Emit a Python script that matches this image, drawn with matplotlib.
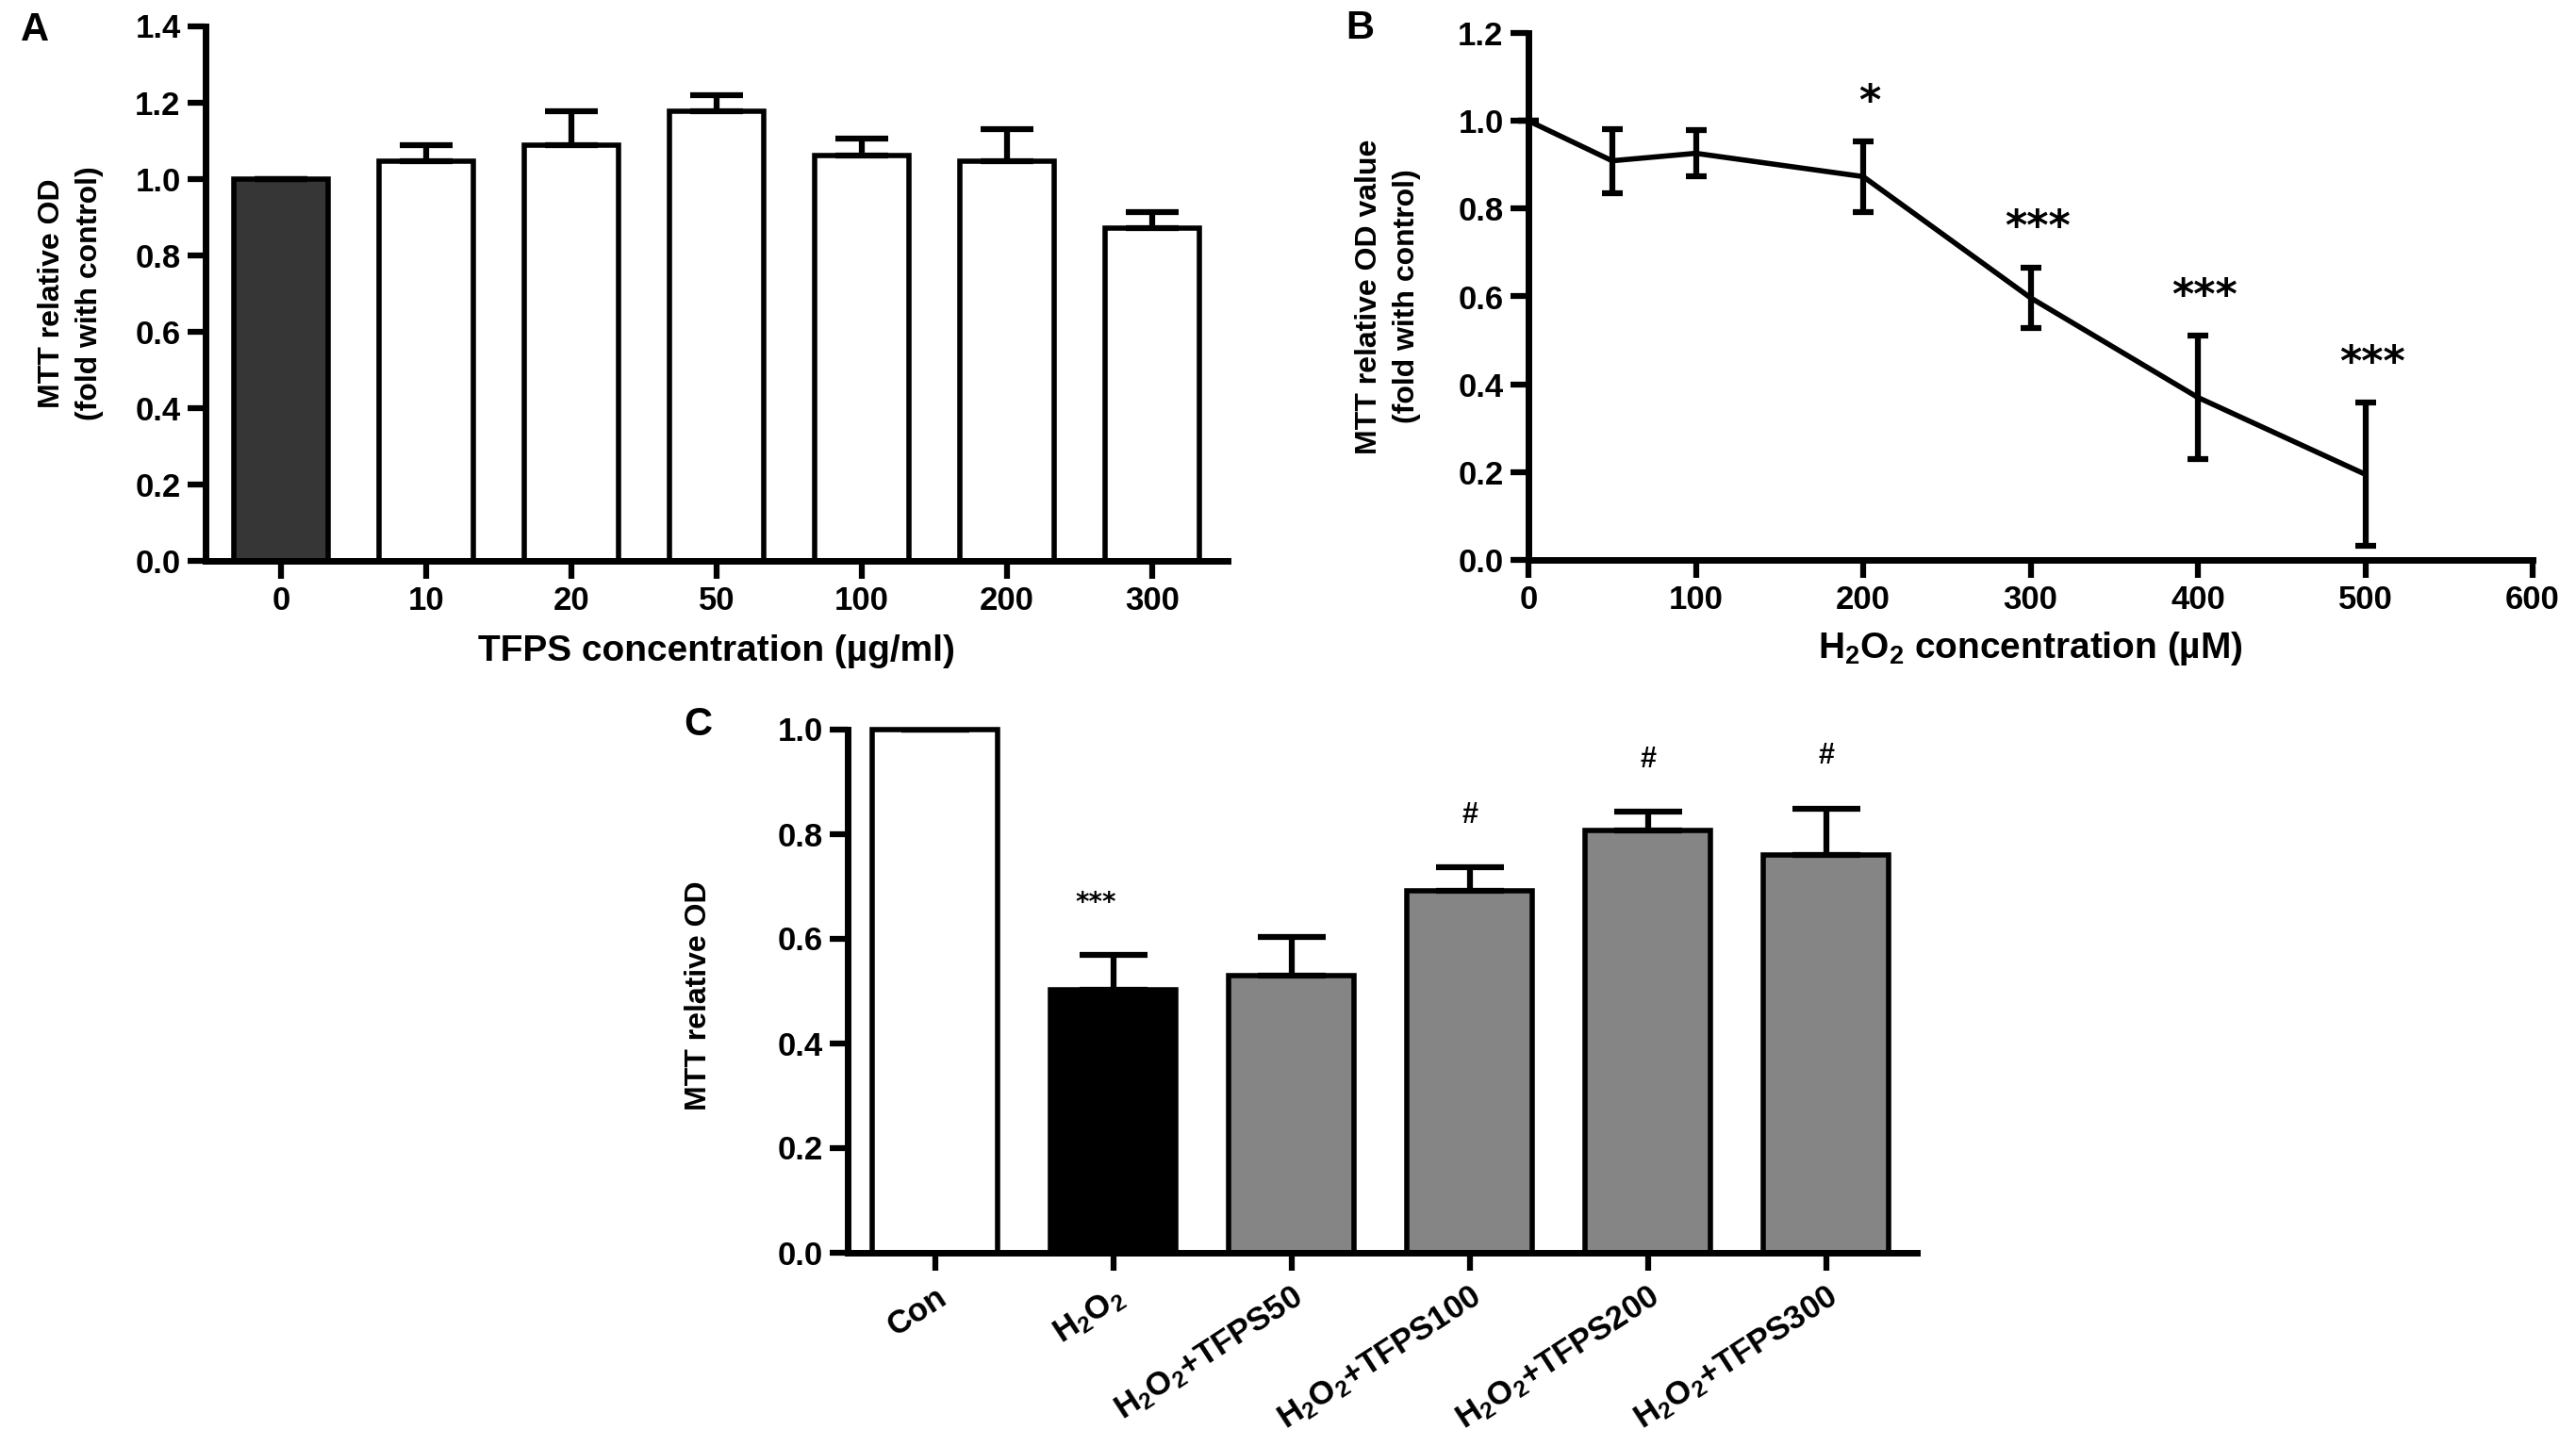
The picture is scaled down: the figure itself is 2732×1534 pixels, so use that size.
import numpy as np
import matplotlib
matplotlib.use("Agg")
import matplotlib.pyplot as plt

# ------------------------------------------------
# Data
# ------------------------------------------------
# Panel A: TFPS alone
tfps_labels = ["0", "10", "20", "50", "100", "200", "300"]
tfps_mean = [1.0, 1.045, 1.087, 1.176, 1.060, 1.046, 0.871]
tfps_err = [0.0, 0.043, 0.090, 0.043, 0.045, 0.084, 0.042]

# Panel B: H2O2 dose response
h2o2_conc = [0, 50, 100, 200, 300, 400, 500]
h2o2_mean = [1.0, 0.909, 0.926, 0.873, 0.597, 0.370, 0.195]
h2o2_err = [0.0, 0.073, 0.052, 0.080, 0.069, 0.140, 0.163]
h2o2_sig = ["", "", "", "*", "***", "***", "***"]

# Panel C: protection by TFPS
group_labels = ["Con", "H$_2$O$_2$", "H$_2$O$_2$+TFPS50", "H$_2$O$_2$+TFPS100",
                "H$_2$O$_2$+TFPS200", "H$_2$O$_2$+TFPS300"]
group_mean = [1.0, 0.501, 0.529, 0.691, 0.806, 0.760]
group_err = [0.0, 0.067, 0.073, 0.045, 0.036, 0.088]
group_sig = ["", "***", "", "#", "#", "#"]

# ------------------------------------------------
# Style
# ------------------------------------------------
plt.rcParams["font.family"] = ["Liberation Sans", "DejaVu Sans"]
plt.rcParams["font.weight"] = "bold"
plt.rcParams["axes.labelweight"] = "bold"
plt.rcParams["mathtext.default"] = "regular"
plt.rcParams["axes.linewidth"] = 5

W, H = 2732, 1534
YLABEL_SIZE = 23


def px_axes(left, top, right, bottom):
    return [left / W, 1 - bottom / H, (right - left) / W, (bottom - top) / H]


def style_axes(ax):
    for side in ("top", "right"):
        ax.spines[side].set_visible(False)
    ax.tick_params(direction="out", length=14, width=4.5, labelsize=25, pad=5)


fig = plt.figure(figsize=(W / 100, H / 100), dpi=100)

# ------------------------------------------------
# Panel A
# ------------------------------------------------
axA = fig.add_axes(px_axes(218, 27.5, 1302, 594.6))
xa = np.arange(len(tfps_labels))
colors_a = ["#363636"] + ["white"] * (len(tfps_labels) - 1)
axA.bar(xa, tfps_mean, width=0.65, color=colors_a, edgecolor="black",
        linewidth=4, zorder=2)
axA.errorbar(xa, tfps_mean, yerr=[np.zeros(len(xa)), tfps_err], fmt="none",
             ecolor="black", elinewidth=4.5, capsize=20, capthick=4.5, zorder=3)
axA.set_xlim(-0.52, len(xa) - 0.48)
axA.set_ylim(0, 1.4)
axA.set_yticks(np.arange(0, 1.41, 0.2))
axA.set_yticklabels([f"{v:.1f}" for v in np.arange(0, 1.41, 0.2)])
axA.set_xticks(xa)
axA.set_xticklabels(tfps_labels)
style_axes(axA)
axA.set_ylabel("MTT relative OD\n(fold with control)", fontsize=YLABEL_SIZE,
               fontweight="bold", va="center", linespacing=1.45)
axA.yaxis.set_label_coords(-0.132, 0.5)
axA.set_xlabel("TFPS concentration (\u00b5g/ml)", fontsize=28,
               fontweight="bold", va="center")
axA.xaxis.set_label_coords(0.5, -0.17)

# ------------------------------------------------
# Panel B
# ------------------------------------------------
axB = fig.add_axes(px_axes(1621, 35, 2686, 594))
axB.errorbar(h2o2_conc, h2o2_mean, yerr=h2o2_err, color="black", linewidth=4,
             elinewidth=4.5, capsize=8, capthick=4.5, clip_on=False, zorder=3)
for xv, yv, ev, s in zip(h2o2_conc, h2o2_mean, h2o2_err, h2o2_sig):
    if s:
        axB.text(xv + 4, yv + ev + 0.09, s, ha="center", va="center",
                 fontsize=32, family="DejaVu Sans")
axB.set_xlim(0, 600)
axB.set_ylim(0, 1.2)
axB.set_xticks(np.arange(0, 601, 100))
axB.set_yticks(np.arange(0, 1.21, 0.2))
axB.set_yticklabels([f"{v:.1f}" for v in np.arange(0, 1.21, 0.2)])
style_axes(axB)
axB.set_ylabel("MTT relative OD value\n(fold with control)", fontsize=YLABEL_SIZE,
               fontweight="bold", va="center", linespacing=1.45)
axB.yaxis.set_label_coords(-0.140, 0.5)
axB.set_xlabel("H$_2$O$_2$ concentration (\u00b5M)", fontsize=28,
               fontweight="bold", va="center")
axB.xaxis.set_label_coords(0.5, -0.168)

# ------------------------------------------------
# Panel C
# ------------------------------------------------
axC = fig.add_axes(px_axes(899, 773.5, 2033, 1328.5))
xc = np.arange(len(group_labels))
colors_c = ["white", "black"] + ["#858585"] * (len(group_labels) - 2)
axC.bar(xc, group_mean, width=0.7, color=colors_c, edgecolor="black",
        linewidth=4, zorder=2, clip_on=False)
axC.errorbar(xc, group_mean, yerr=[np.zeros(len(xc)), group_err], fmt="none",
             ecolor="black", elinewidth=4.5, capsize=26, capthick=4.5, zorder=3)
for xv, yv, ev, s in zip(xc, group_mean, group_err, group_sig):
    if s == "***":
        axC.text(xv - 0.1, yv + ev + 0.10, s, ha="center", va="center",
                 fontsize=20, family="DejaVu Sans")
    elif s:
        axC.text(xv, yv + ev + 0.10, s, ha="center", va="center", fontsize=22)
axC.set_xlim(-0.49, len(xc) - 0.49)
axC.set_ylim(0, 1.0)
axC.set_yticks(np.arange(0, 1.01, 0.2))
axC.set_yticklabels([f"{v:.1f}" for v in np.arange(0, 1.01, 0.2)])
axC.set_xticks(xc)
style_axes(axC)
axC.set_xticklabels(group_labels, rotation=33, ha="right", va="top",
                    rotation_mode="anchor", fontsize=25)
axC.tick_params(axis="x", pad=8)
axC.set_ylabel("MTT relative OD", fontsize=YLABEL_SIZE,
               fontweight="bold", va="center")
axC.yaxis.set_label_coords(-0.139, 0.49)

# ------------------------------------------------
# Panel letters
# ------------------------------------------------
fig.text(22 / W, 1 - 43 / H, "A", fontsize=30, ha="left", va="baseline")
fig.text(1427 / W, 1 - 41 / H, "B", fontsize=30, ha="left", va="baseline")
fig.text(725 / W, 1 - 780 / H, "C", fontsize=30, ha="left", va="baseline")

fig.savefig("out.png", dpi=100)
